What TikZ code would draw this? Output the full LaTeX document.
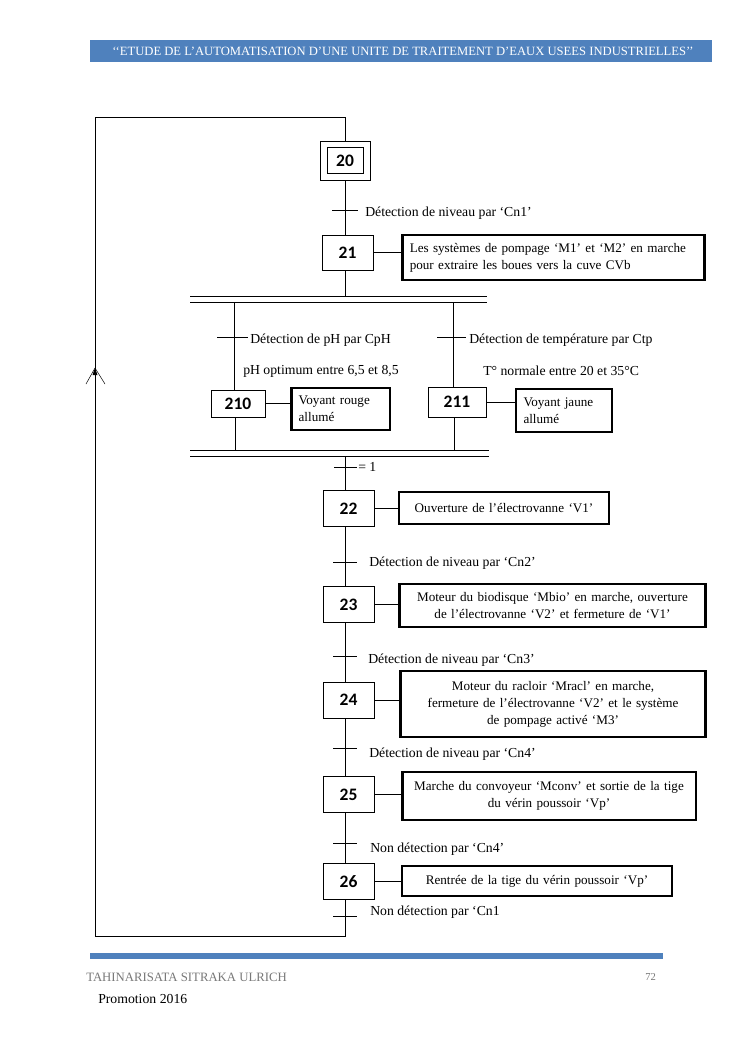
\documentclass[tikz,border=0pt]{standalone}
\usepackage{fontspec}
\setmainfont{Liberation Serif}
\newfontfamily\stepfont{Carlito}
\definecolor{bandblue}{RGB}{79,129,189}
\definecolor{footgray}{RGB}{120,120,120}

\begin{document}
\begin{tikzpicture}[x=0.8pt,y=-0.8pt,
  stepbox/.style={draw, thin, minimum width=40.8pt, minimum height=29pt, inner sep=0pt, font=\stepfont\bfseries\fontsize{14}{14}\selectfont},
  actbox/.style={draw, line width=2.2pt, inner sep=3pt, align=center, font=\fontsize{10.5}{13.6}\selectfont},
  leftbox/.style={actbox, align=left, inner xsep=6pt},
  lbl/.style={anchor=west, inner sep=0pt, font=\fontsize{11}{13}\selectfont},
  tick/.style={thin},
  dbl/.style={thin}]
\useasboundingbox (0,0) rectangle (745,1053);
%
% page header and footer
\fill [bandblue] (90,40) rectangle (712,62);
\node [text=white, font=\fontsize{10.1}{10}\selectfont] (title) at (403,51) {‘‘ETUDE DE L’AUTOMATISATION D’UNE UNITE DE TRAITEMENT D’EAUX USEES INDUSTRIELLES’’};
\fill [bandblue] (90,953) rectangle (663,959);
\node [anchor=west, inner sep=0pt, text=footgray, font=\fontsize{10.2}{10}\selectfont] (author) at (86,977) {TAHINARISATA SITRAKA ULRICH};
\node [anchor=west, inner sep=0pt, text=footgray, font=\fontsize{8.5}{8}\selectfont] (page) at (645,977) {72};
\node [anchor=west, inner sep=0pt, font=\fontsize{11}{11}\selectfont] (promo) at (98,999) {Promotion 2016};
%
\coordinate (spine) at (345,0);
\coordinate (top) at (95,117);
\coordinate (bot) at (95,936);
\coordinate (up) at (95,368);
%
% steps
\node [draw, thin, minimum width=40pt, minimum height=31.2pt] (s20o) at (345,160.5) {};
\node [stepbox, minimum width=28.8pt, minimum height=20.8pt] (s20) at (345,160.5) {20};
\node [stepbox, minimum height=28pt] (s21) at (347.5,252.5) {21};
\node [stepbox, minimum width=43.2pt, minimum height=21.6pt] (s210) at (238,403.5) {210};
\node [stepbox, minimum width=46.4pt, minimum height=24pt] (s211) at (457,402) {211};
\node [stepbox] (s22) at (348.5,508.5) {22};
\node [stepbox] (s23) at (348.5,604.5) {23};
\node [stepbox] (s24) at (348.5,700) {24};
\node [stepbox] (s25) at (348.5,794.5) {25};
\node [stepbox] (s26) at (348.5,881.5) {26};
%
% actions
\node [leftbox, text width=230pt, minimum height=36pt] (a21) at (553.5,257.5) {Les systèmes de pompage ‘M1’ et ‘M2’ en marche\\pour extraire les boues vers la cuve CVb};
\node [leftbox, text width=67pt, minimum height=33.6pt] (a210) at (340.5,409) {Voyant rouge\\allumé};
\node [leftbox, text width=64.8pt, minimum height=34.4pt] (a211) at (564,410.5) {Voyant jaune\\allumé};
\node [actbox, text width=162pt, minimum height=25.6pt] (a22) at (504,508) {Ouverture de l’électrovanne ‘V1’};
\node [actbox, text width=239pt, minimum height=34.4pt] (a23) at (552.5,605.5) {Moteur du biodisque ‘Mbio’ en marche, ouverture\\de l’électrovanne ‘V2’ et fermeture de ‘V1’};
\node [actbox, text width=238pt, minimum height=52.8pt] (a24) at (553,704) {Moteur du racloir ‘Mracl’ en marche,\\fermeture de l’électrovanne ‘V2’ et le système\\de pompage activé ‘M3’};
\node [actbox, text width=229pt, minimum height=38.4pt] (a25) at (549,796) {Marche du convoyeur ‘Mconv’ et sortie de la tige\\du vérin poussoir ‘Vp’};
\node [actbox, text width=210pt, minimum height=24pt] (a26) at (537,881) {Rentrée de la tige du vérin poussoir ‘Vp’};
%
\draw (s21.east) -- (s21.east -| a21.west);
\draw (s210.east) -- (s210.east -| a210.west);
\draw (s211.east) -- (s211.east -| a211.west);
\draw (s22.east) -- (s22.east -| a22.west);
\draw (s23.east) -- (s23.east -| a23.west);
\draw (s24.east) -- (s24.east -| a24.west);
\draw (s25.east) -- (s25.east -| a25.west);
\draw (s26.east) -- (s26.east -| a26.west);
%
% AND divergence / convergence
\coordinate (and1) at (190,296);
\coordinate (and2) at (190,456);
\draw [dbl] (and1) -- ++(297,0) (and1) ++(0,6) -- ++(297,0);
\draw [dbl] (and2) ++(0,-6) -- ++(299,0) (and2) -- ++(299,0);
%
% links
\draw (s20o.south -| spine) -- (s21.north -| spine);
\draw (s21.south -| spine) -- (spine |- and1);
\draw (234,302) -- (s210.north -| 234,0);
\draw (s210.south -| 235,0) -- (235,450);
\draw (453,302) -- (s211.north -| 453,0);
\draw (s211.south -| 454,0) -- (454,450);
\draw (spine |- and2) -- (s22.north -| spine);
\draw (s22.south -| spine) -- (s23.north -| spine);
\draw (s23.south -| spine) -- (s24.north -| spine);
\draw (s24.south -| spine) -- (s25.north -| spine);
\draw (s25.south -| spine) -- (s26.north -| spine);
%
% loop back to 20
\draw (s26.south -| spine) -- (spine |- bot) -- (bot) -- (up);
\draw (up) -- (top) -- (spine |- top) -- (s20o.north -| spine);
\draw (up) -- +(-9,16) (up) -- +(10,16);
\fill (up) -- +(-2.5,7) -- +(2.5,7) -- cycle;
%
% transitions
\draw [tick] (332,210) -- (358,210);
\node [lbl] (c1) at (365,213) {Détection de niveau par ‘Cn1’};
\draw [tick] (217,337) -- (248,337);
\node [lbl] (cph) at (250,340) {Détection de pH par CpH};
\node [lbl] (ph) at (243,371) {pH optimum entre 6,5 et 8,5};
\draw [tick] (437,337) -- (466,337);
\node [lbl] (ctp) at (469,340) {Détection de température par Ctp};
\node [lbl] (tn) at (483,371) {T° normale entre 20 et 35°C};
\draw [tick] (334,467) -- (357,467);
\node [lbl] (c0) at (358,467) {= 1};
\draw [tick] (333,562) -- (357,562);
\node [lbl] (c2) at (369,563) {Détection de niveau par ‘Cn2’};
\draw [tick] (333,656) -- (357,656);
\node [lbl] (c3) at (368,660) {Détection de niveau par ‘Cn3’};
\draw [tick] (333,748) -- (357,748);
\node [lbl] (c4) at (369,754) {Détection de niveau par ‘Cn4’};
\draw [tick] (333,843) -- (357,843);
\node [lbl] (c5) at (370,849) {Non détection par ‘Cn4’};
\draw [tick] (333,916) -- (357,916);
\node [lbl] (c6) at (370,912) {Non détection par ‘Cn1};
%
\end{tikzpicture}
\end{document}
